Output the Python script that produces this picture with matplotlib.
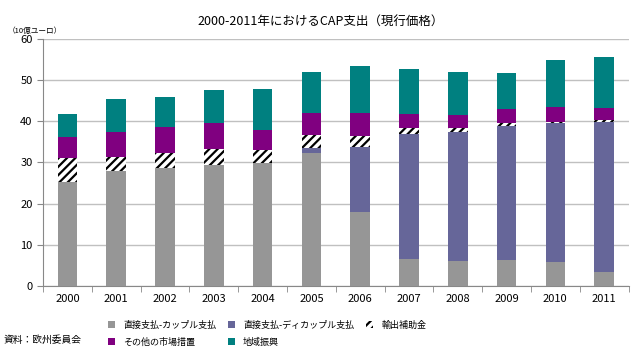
import numpy as np
import matplotlib.pyplot as plt

plt.rcParams['font.family'] = ['Noto Sans CJK JP', 'DejaVu Sans']
plt.rcParams['hatch.linewidth'] = 1.6

years = ['2000', '2001', '2002', '2003', '2004', '2005',
         '2006', '2007', '2008', '2009', '2010', '2011']

# 10億ユーロ, cumulative tops, converted to segment sizes
coupled = [25.3, 27.9, 28.6, 29.5, 29.8, 32.2, 18.0, 6.6, 6.1, 6.3, 5.9, 3.4]
decoupled = [0.0, 0.0, 0.0, 0.0, 0.0, 1.4, 15.8, 30.2, 31.3, 32.6, 33.6, 36.5]
export_sub = [5.8, 3.5, 3.6, 3.8, 3.2, 3.1, 2.6, 1.5, 0.9, 0.6, 0.4, 0.4]
other_market = [5.0, 6.1, 6.4, 6.2, 5.0, 5.2, 5.5, 3.4, 3.2, 3.5, 3.5, 3.0]
rural = [5.6, 8.0, 7.4, 8.0, 9.8, 10.0, 11.4, 10.9, 10.5, 8.6, 11.5, 12.3]

labels = ['直接支払-カップル支払', '直接支払-ディカップル支払', '輸出補助金',
          'その他の市場措置', '地域振興']

fig = plt.figure(figsize=(6.42, 3.52), dpi=100)
ax = fig.add_axes([0.067, 0.1875, 0.912, 0.702])

x = np.arange(len(years))
w = 0.4
b = np.zeros(len(years))
h1 = ax.bar(x, coupled, w, bottom=b, color='#969696', zorder=3)
b += coupled
h2 = ax.bar(x, decoupled, w, bottom=b, color='#666699', zorder=3)
b += decoupled
h3 = ax.bar(x, export_sub, w, bottom=b, color='white', edgecolor='black',
            hatch='////', linewidth=0, zorder=3)
b += export_sub
h4 = ax.bar(x, other_market, w, bottom=b, color='#800080', zorder=3)
b += other_market
h5 = ax.bar(x, rural, w, bottom=b, color='#008080', zorder=3)

ax.set_xlim(-0.5, len(years) - 0.5)
ax.set_ylim(0, 60)
ax.set_yticks(range(0, 61, 10))
ax.set_xticks(x)
ax.set_xticklabels(years)
ax.set_xticks(np.arange(-0.5, len(years)), minor=True)
ax.tick_params(axis='x', which='major', length=0, labelsize=8, pad=6)
ax.tick_params(axis='x', which='minor', length=4, color='#888888')
ax.tick_params(axis='y', labelsize=8, length=4, color='#888888')
ax.grid(axis='y', color='#c0c0c0', linewidth=1, zorder=0)
for s in ['top', 'right']:
    ax.spines[s].set_visible(False)
ax.spines['left'].set_color('#888888')
ax.spines['bottom'].set_color('#888888')

fig.text(0.5, 0.93, '2000-2011年におけるCAP支出（現行価格）', ha='center',
         fontsize=9)
fig.text(0.012, 0.905, '（10億ユーロ）', fontsize=5.5)
fig.text(0.005, 0.025, '資料：欧州委員会', fontsize=7)

fig.legend([h1, h4, h2, h5, h3],
           [labels[0], labels[3], labels[1], labels[4], labels[2]],
           ncol=3, loc='lower left', bbox_to_anchor=(0.155, -0.008),
           frameon=False, fontsize=6.5, handlelength=0.8, handleheight=0.8,
           handletextpad=0.9, columnspacing=1.3, labelspacing=0.85)

plt.savefig('out.png', dpi=100)
